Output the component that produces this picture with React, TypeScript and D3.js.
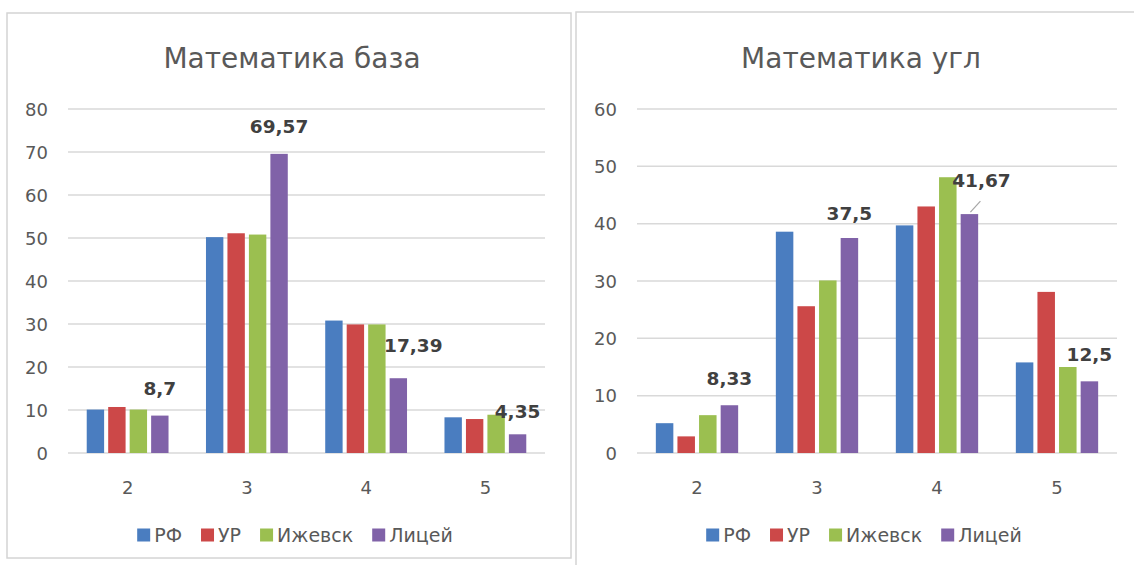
import React, { useEffect, useRef } from "react";
import * as d3 from "d3";

const categories = ["2", "3", "4", "5"];
const seriesNames = ["РФ", "УР", "Ижевск", "Лицей"];
const seriesColors = ["#4a7dc0", "#cc4848", "#9bbf50", "#8062a8"];

// Математика база — values per series, in category order
const bazaRF = [10.1, 50.2, 30.8, 8.3];
const bazaUR = [10.7, 51.1, 29.9, 7.9];
const bazaIzh = [10.1, 50.8, 29.9, 8.9];
const bazaLic = [8.7, 69.57, 17.39, 4.35];
const bazaTicks = [0, 10, 20, 30, 40, 50, 60, 70, 80];

// Математика угл
const uglRF = [5.2, 38.6, 39.7, 15.8];
const uglUR = [2.9, 25.6, 43.0, 28.1];
const uglIzh = [6.6, 30.1, 48.1, 15.0];
const uglLic = [8.33, 37.5, 41.67, 12.5];
const uglTicks = [0, 10, 20, 30, 40, 50, 60];

// label nudges (px) for the Лицей data labels
const bazaNudge = [[0, 0], [0, 0], [15, -6], [0, 4]];
const uglNudge = [[0, 0], [0, 2], [12, -7], [0, 0]];

const FONT = "DejaVu Sans";

type Panel = {
  title: string;
  series: number[][];
  ticks: number[];
  nudges: number[][];
  leader: boolean[];
  px: number;
  py: number;
  pw: number;
  ph: number;
  plotL: number;
  plotR: number;
};

export default function App() {
  const ref = useRef<SVGSVGElement>(null);

  useEffect(() => {
    const svg = d3.select(ref.current);
    svg.selectAll("*").remove();

    const panels: Panel[] = [
      {
        title: "Математика база",
        series: [bazaRF, bazaUR, bazaIzh, bazaLic],
        ticks: bazaTicks,
        nudges: bazaNudge,
        leader: [false, false, false, false],
        px: 7, py: 13, pw: 564, ph: 545,
        plotL: 68, plotR: 545,
      },
      {
        title: "Математика угл",
        series: [uglRF, uglUR, uglIzh, uglLic],
        ticks: uglTicks,
        nudges: uglNudge,
        leader: [false, false, true, false],
        px: 576, py: 12, pw: 564, ph: 570,
        plotL: 637, plotR: 1117,
      },
    ];

    const plotTop = 109;
    const plotBottom = 453;

    panels.forEach((p) => {
      const g = svg.append("g");
      g.append("rect")
        .attr("x", p.px).attr("y", p.py)
        .attr("width", p.pw).attr("height", p.ph)
        .attr("fill", "#fff")
        .attr("stroke", "#d4d4d4").attr("stroke-width", 1.5);

      const cx = p.px + p.pw / 2;
      g.append("text")
        .attr("x", cx + 3).attr("y", 68)
        .attr("text-anchor", "middle")
        .attr("font-family", FONT).attr("font-size", 28)
        .attr("fill", "#595959")
        .text(p.title);

      const maxV = p.ticks[p.ticks.length - 1];
      const y = d3.scaleLinear().domain([0, maxV]).range([plotBottom, plotTop]);
      const x0 = d3.scaleBand<string>().domain(categories)
        .range([p.plotL, p.plotR]).paddingInner(0.314).paddingOuter(0.157);
      const x1 = d3.scaleBand<string>().domain(seriesNames)
        .range([0, x0.bandwidth()]).paddingInner(0.19);

      p.ticks.forEach((t) => {
        g.append("line")
          .attr("x1", p.plotL).attr("x2", p.plotR)
          .attr("y1", y(t)).attr("y2", y(t))
          .attr("stroke", "#d9d9d9").attr("stroke-width", 1.5);
        g.append("text")
          .attr("x", p.plotL - 20).attr("y", y(t) + 6.5)
          .attr("text-anchor", "end")
          .attr("font-family", FONT).attr("font-size", 18)
          .attr("fill", "#595959")
          .text(String(t));
      });

      categories.forEach((c) => {
        g.append("text")
          .attr("x", (x0(c) as number) + x0.bandwidth() / 2)
          .attr("y", 494)
          .attr("text-anchor", "middle")
          .attr("font-family", FONT).attr("font-size", 18)
          .attr("fill", "#595959")
          .text(c);
      });

      p.series.forEach((vals, si) => {
        vals.forEach((v, ci) => {
          const bx = (x0(categories[ci]) as number) + (x1(seriesNames[si]) as number);
          g.append("rect")
            .attr("x", bx).attr("y", y(v))
            .attr("width", x1.bandwidth())
            .attr("height", plotBottom - y(v))
            .attr("fill", seriesColors[si]);
        });
      });

      const last = p.series[3];
      last.forEach((v, ci) => {
        const bx = (x0(categories[ci]) as number) + (x1(seriesNames[3]) as number) + x1.bandwidth() / 2;
        const [dx, dy] = p.nudges[ci];
        const ty = y(v) - 20.5 + dy;
        if (p.leader[ci]) {
          g.append("line")
            .attr("x1", bx + 1).attr("y1", y(v) - 2)
            .attr("x2", bx + 11).attr("y2", y(v) - 13)
            .attr("stroke", "#a6a6a6").attr("stroke-width", 1.2);
        }
        g.append("text")
          .attr("x", bx + dx).attr("y", ty)
          .attr("text-anchor", "middle")
          .attr("font-family", FONT).attr("font-size", 18.5)
          .attr("font-weight", "bold")
          .attr("fill", "#404040")
          .text(String(v).replace(".", ","));
      });

      const lg = g.append("g");
      let cur = 0;
      seriesNames.forEach((n, i) => {
        lg.append("rect")
          .attr("x", cur).attr("y", -6.5)
          .attr("width", 13).attr("height", 13)
          .attr("fill", seriesColors[i]);
        const t = lg.append("text")
          .attr("x", cur + 17).attr("y", 7)
          .attr("font-family", FONT).attr("font-size", 19)
          .attr("fill", "#595959")
          .text(n);
        const w = (t.node() as SVGTextElement).getComputedTextLength();
        cur += 17 + w + 19;
      });
      const total = cur - 19;
      lg.attr("transform", `translate(${cx + 6 - total / 2},535)`);
    });
  }, []);

  return (
    <svg
      ref={ref}
      width={1134}
      height={565}
      style={{ position: "absolute", left: 0, top: 0, background: "#fff" }}
    />
  );
}
